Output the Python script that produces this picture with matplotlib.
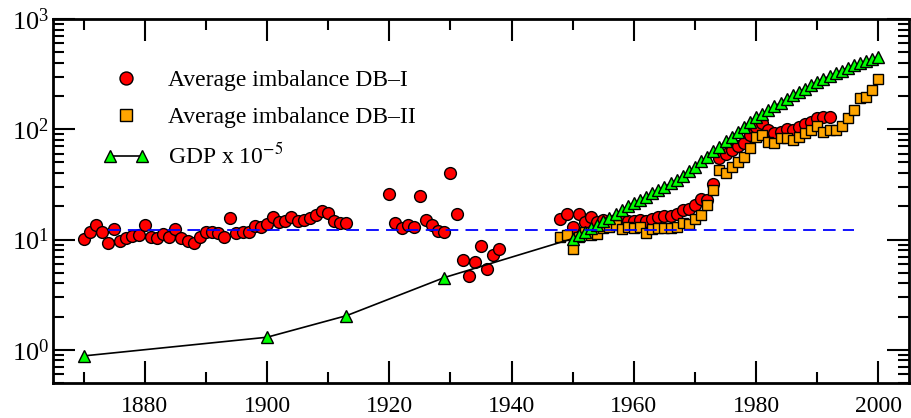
import matplotlib
matplotlib.use("Agg")
import matplotlib.pyplot as plt
from matplotlib.legend_handler import HandlerLine2D
from matplotlib.ticker import LogLocator, MultipleLocator, NullFormatter

plt.rcParams['font.family'] = ['Liberation Serif', 'DejaVu Serif']
plt.rcParams['mathtext.fontset'] = 'stix'

# Average imbalance DB-I (three blocks of years)
db1_years = list(range(1870, 1914)) + list(range(1920, 1939)) + list(range(1948, 1993))
db1_values = [
    10.1, 11.8, 13.6, 11.8, 9.3, 12.4, 9.7, 10.4, 10.8, 11.0,
    13.6, 10.6, 10.3, 11.2, 10.6, 12.4, 10.3, 9.7, 9.4, 10.6,
    11.8, 11.6, 11.4, 10.6, 15.6, 11.4, 11.8, 11.8, 13.4, 13.1,
    13.8, 16.1, 14.3, 14.8, 15.9, 14.7, 15.1, 15.6, 16.7, 18.2,
    17.3, 14.7, 14.1, 14.1,
    # 1920-1938
    25.9, 14.1, 12.7, 13.6, 12.9, 24.8, 15.1, 13.6, 12.0, 11.8,
    40.4, 17.0, 6.5, 4.7, 6.2, 8.7, 5.4, 7.2, 8.2,
    # 1948-1992
    15.3, 17.1, 13.0, 17.1, 14.5, 15.9, 14.5, 15.0, 14.5, 15.0,
    14.6, 14.8, 14.8, 15.1, 14.8, 15.3, 15.9, 16.3, 16.5, 17.1,
    18.4, 18.8, 20.6, 23.4, 22.9, 31.6, 55, 60, 65, 70,
    75, 89, 105, 113, 99, 93, 95, 100, 99, 104,
    112, 117, 127, 130, 130,
]

# Average imbalance DB-II
db2_years = list(range(1948, 2001))
db2_values = [
    10.6, 10.9, 8.2, 10.6, 11.8, 11.0, 11.2, 12.7, 12.9, 13.6,
    12.4, 13.1, 12.7, 13.1, 11.4, 12.4, 12.7, 12.7, 12.7, 12.9,
    14.1, 13.9, 15.3, 16.7, 20.6, 28.0, 42.8, 39.9, 45.8, 50.8,
    56.5, 67.2, 85.7, 88.8, 77.3, 74.6, 82.8, 82.8, 80.0, 85.7,
    92.0, 98.6, 106, 95, 98.6, 98.6, 107, 127, 150, 191,
    198, 227, 284,
]

# GDP x 1e-5
gdp_years = [1870, 1900, 1913, 1929] + list(range(1950, 2001))
gdp_values = [
    0.88, 1.30, 2.04, 4.52,
    10.2, 11.0, 11.7, 12.6, 13.5, 14.8, 15.8, 17.0, 18.6, 20.0,
    21.4, 22.9, 24.5, 26.3, 28.2, 30.2, 32.4, 34.7, 38.0, 41.7,
    45.7, 51.3, 56.2, 63, 69, 78, 85, 95, 105, 117,
    129, 138, 148, 162, 174, 190, 204, 219, 234, 251,
    269, 288, 302, 324, 339, 363, 380, 398, 417, 437,
    452,
]

# mean level (dashed)
mean_years = [1874, 1996]
mean_level = 12.2

fig = plt.figure(figsize=(9.11, 4.18), dpi=100)
ax = fig.add_axes([53 / 911, 35 / 418, 856 / 911, 364 / 418])

ax.plot(db1_years, db1_values, 'o', color='#ff0000', mec='black', mew=1.0,
        ms=8.5, label='Average imbalance DB\u2013I', zorder=3)
ax.plot(db2_years, db2_values, 's', color='#ffa500', mec='black', mew=1.0,
        ms=7.3, label='Average imbalance DB\u2013II', zorder=4)
gdp_line, = ax.plot(gdp_years, gdp_values, '-^', color='black', mfc='#00ff00',
                    mec='black', mew=1.0, ms=8.5, lw=1.2,
                    label='GDP x 10$^{-5}$', zorder=5)
ax.plot(mean_years, [mean_level, mean_level], color='#0000ff', lw=1.3,
        dashes=(7, 4), zorder=6)

ax.set_yscale('log')
ax.set_xlim(1865, 2005)
ax.set_ylim(0.5, 1000)

ax.xaxis.set_major_locator(MultipleLocator(20))
ax.xaxis.set_minor_locator(MultipleLocator(10))
ax.yaxis.set_major_locator(LogLocator(base=10, numticks=10))
ax.yaxis.set_minor_locator(LogLocator(base=10, subs=range(2, 10), numticks=20))
ax.yaxis.set_minor_formatter(NullFormatter())

ax.tick_params(which='both', direction='in', top=True, right=True,
               labelsize=17, width=1.5)
ax.tick_params(which='major', length=16)
ax.tick_params(which='minor', length=8)
ax.tick_params(axis='x', which='major', pad=9)
ax.tick_params(axis='y', which='major', pad=3, labelsize=19)

for s in ax.spines.values():
    s.set_linewidth(2)

ax.legend(loc='upper left', bbox_to_anchor=(0.034, 0.92), frameon=False,
          fontsize=17, numpoints=1, handlelength=1.95, handletextpad=0.8,
          labelspacing=0.65, markerscale=1.1,
          handler_map={gdp_line: HandlerLine2D(numpoints=2)})

fig.savefig('out.png', dpi=100)
